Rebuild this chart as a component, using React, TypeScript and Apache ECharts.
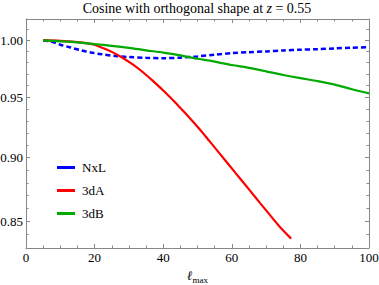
import React, { useEffect, useRef } from "react";
import * as echarts from "echarts";

// ---- data (ℓ_max, cosine) ----
const nxlL = [5, 7, 10, 13, 16, 19, 22, 26, 30, 35, 40, 45, 50, 55, 60, 65, 70, 75, 80, 85, 90, 95, 100];
const nxlV = [0.9998, 0.999, 0.996, 0.9935, 0.991, 0.989, 0.9875, 0.986, 0.985, 0.9843, 0.984, 0.9845, 0.9856, 0.987, 0.9885, 0.9893, 0.99, 0.9909, 0.9915, 0.992, 0.9927, 0.9933, 0.9937];

const a3dL = [5, 10, 15, 18, 20, 22, 25, 28, 31, 34, 37, 41, 44, 47, 50.7, 53.5, 56.6, 59.5, 62.4, 65.3, 68.2, 71.1, 74.1, 77.3];
const a3dV = [1.0, 0.9994, 0.9983, 0.9972, 0.996, 0.9935, 0.9896, 0.9846, 0.9787, 0.9719, 0.9642, 0.9531, 0.9441, 0.935, 0.9231, 0.9135, 0.9029, 0.8931, 0.8834, 0.8738, 0.8643, 0.855, 0.8456, 0.837];

const b3dL = [5, 10, 15, 20, 25, 30, 35, 40, 45, 50, 55, 60, 65, 70, 75, 80, 85, 90, 95, 100];
const b3dV = [0.9998, 0.999, 0.998, 0.9965, 0.995, 0.9932, 0.991, 0.989, 0.9865, 0.9835, 0.981, 0.978, 0.9755, 0.9725, 0.9693, 0.9665, 0.964, 0.961, 0.957, 0.9535];

const seriesNames = ["NxL", "3dA", "3dB"];
const seriesColors = ["#0000ff", "#ff0000", "#00aa00"];
const xTicks = [0, 20, 40, 60, 80, 100];
const xMinorTicks = [5, 10, 15, 25, 30, 35, 45, 50, 55, 65, 70, 75, 85, 90, 95];
const yMajorTicks = [0.85, 0.9, 0.95, 1.0];
const yMinorTicks = [0.83, 0.84, 0.86, 0.87, 0.88, 0.89, 0.91, 0.92, 0.93, 0.94, 0.96, 0.97, 0.98, 0.99, 1.01];
const yRange = [0.83, 1.0192];

const FONT = "'Liberation Serif', 'Times New Roman', serif";
const FRAME = "#888888";
const LEGEND_ICON = "path://M0,0L18,0L18,3L0,3Z";

export default function App() {
  const ref = useRef<HTMLDivElement>(null);
  useEffect(() => {
    if (!ref.current) return;
    const chart = echarts.init(ref.current, null, { renderer: "svg" });
    const ln = (v: number) => Math.log(v);
    const pairs = (xs: number[], ys: number[]) => xs.map((x, i) => [x, ln(ys[i])]);
    const yMin = ln(yRange[0]);
    const yMax = ln(yRange[1]);

    const xAxisBase = (position: string, ticks: number[], len: number, labels: boolean, line: boolean) => ({
      type: "value",
      position,
      min: xTicks[0],
      max: xTicks[xTicks.length - 1],
      axisLine: { show: line, onZero: false, lineStyle: { color: FRAME, width: 1 } },
      axisTick: { show: true, inside: true, length: len, customValues: ticks, lineStyle: { color: FRAME } },
      axisLabel: labels
        ? {
            show: true,
            customValues: xTicks,
            color: "#000",
            fontFamily: FONT,
            fontSize: 13,
            margin: 3,
            showMinLabel: true,
            showMaxLabel: true,
          }
        : { show: false },
      splitLine: { show: false },
    });
    const yAxisBase = (position: string, ticks: number[], len: number, labels: boolean, line: boolean) => ({
      type: "value",
      position,
      min: yMin,
      max: yMax,
      axisLine: { show: line, onZero: false, lineStyle: { color: FRAME, width: 1 } },
      axisTick: {
        show: true,
        inside: true,
        length: len,
        customValues: ticks.map(ln),
        lineStyle: { color: FRAME },
      },
      axisLabel: labels
        ? {
            show: true,
            customValues: yMajorTicks.map(ln),
            formatter: (v: number) => Math.exp(v).toFixed(2),
            color: "#000",
            fontFamily: FONT,
            fontSize: 13,
            margin: 3,
          }
        : { show: false },
      splitLine: { show: false },
    });

    const lineSeries = (name: string, data: number[][], color: string, dashed: boolean) => ({
      name,
      type: "line",
      data,
      xAxisIndex: 0,
      yAxisIndex: 0,
      showSymbol: false,
      smooth: 0.3,
      lineStyle: { color, width: dashed ? 2.5 : 2.2, type: dashed ? [5, 3] : "solid" },
      itemStyle: { color },
    });

    const xName = {
      name: "{l|ℓ}{s|max}",
      nameLocation: "middle",
      nameGap: 13,
      nameTextStyle: {
        rich: {
          l: { fontStyle: "italic", fontFamily: "'DejaVu Serif', serif", fontSize: 13, lineHeight: 18, color: "#000" },
          s: { fontFamily: FONT, fontSize: 9, lineHeight: 9, verticalAlign: "bottom", color: "#000" },
        },
      },
    };

    chart.setOption({
      animation: false,
      backgroundColor: "#fff",
      grid: { left: 26, right: 10, top: 19, bottom: 37, containLabel: false, outerBoundsMode: "none" },
      graphic: [
        {
          type: "text",
          x: 197,
          y: 1,
          style: {
            text: "Cosine with orthogonal shape at {i|z} = 0.55",
            fill: "#000",
            fontFamily: FONT,
            fontSize: 14,
            align: "center",
            verticalAlign: "top",
            rich: { i: { fontStyle: "italic", fontFamily: FONT, fontSize: 14, fill: "#000" } },
          },
        },
      ],
      legend: {
        orient: "vertical",
        left: 52,
        top: 156,
        itemWidth: 18,
        itemHeight: 3,
        itemGap: 10,
        icon: LEGEND_ICON,
        data: seriesNames.map((name, i) => ({
          name,
          icon: LEGEND_ICON,
          itemStyle: {
            color: seriesColors[i],
            borderColor: seriesColors[i],
            borderWidth: 0,
            borderType: "solid",
            decal: "none",
          },
          lineStyle: { type: "solid", width: 0, color: seriesColors[i] },
        })),
        itemStyle: { borderWidth: 0, borderType: "solid" },
        lineStyle: { type: "solid", width: 0 },
        textStyle: { color: "#000", fontFamily: FONT, fontSize: 13, padding: [0, 0, 0, 2] },
      },
      xAxis: [
        { ...xAxisBase("bottom", xTicks, 4, true, true), ...xName },
        xAxisBase("bottom", xMinorTicks, 2.5, false, false),
        xAxisBase("top", xTicks, 4, false, true),
        xAxisBase("top", xMinorTicks, 2.5, false, false),
      ],
      yAxis: [
        yAxisBase("left", yMajorTicks, 4, true, true),
        yAxisBase("left", yMinorTicks, 2.5, false, false),
        yAxisBase("right", yMajorTicks, 4, false, true),
        yAxisBase("right", yMinorTicks, 2.5, false, false),
      ],
      series: [
        lineSeries(seriesNames[0], pairs(nxlL, nxlV), seriesColors[0], true),
        lineSeries(seriesNames[1], pairs(a3dL, a3dV), seriesColors[1], false),
        lineSeries(seriesNames[2], pairs(b3dL, b3dV), seriesColors[2], false),
      ],
    });
    return () => chart.dispose();
  }, []);
  return (
    <div
      ref={ref}
      style={{ position: "fixed", left: 0, top: 0, width: 379, height: 285 }}
    />
  );
}
